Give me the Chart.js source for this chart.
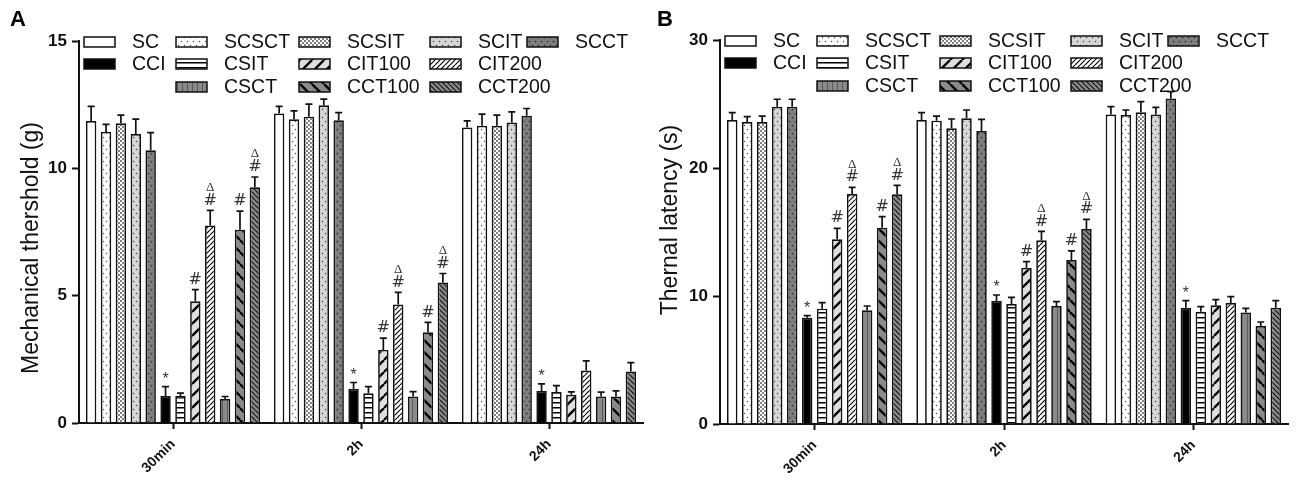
<!DOCTYPE html>
<html><head><meta charset="utf-8">
<script src="https://cdn.jsdelivr.net/npm/chart.js@4.4.0/dist/chart.umd.min.js"></script>
<style>
html,body{margin:0;padding:0;background:#fff;}
#wrap{position:relative;width:1300px;height:486px;overflow:hidden;}
.panel{position:absolute;top:0;width:650px;height:486px;}
</style></head><body>
<div id="wrap">
<div class="panel" style="left:0"><canvas id="cA"></canvas></div>
<div class="panel" style="left:650px"><canvas id="cB"></canvas></div>
</div>
<script>
// ---------- data ----------
const timeLabels = ['30min', '2h', '24h'];
const seriesLabels = ['SC','SCSCT','SCSIT','SCIT','SCCT','CCI','CSIT','CIT100','CIT200','CSCT','CCT100','CCT200'];

// Panel A: mechanical threshold (g), values per time point in series order
const mech30min = [11.86, 11.43, 11.77, 11.35, 10.71, 1.06, 1.06, 4.78, 7.76, 0.94, 7.59, 9.26];
const mech2h    = [12.15, 11.93, 12.03, 12.48, 11.89, 1.34, 1.17, 2.87, 4.65, 1.04, 3.56, 5.52];
const mech24h   = [11.60, 11.67, 11.67, 11.80, 12.06, 1.26, 1.22, 1.11, 2.06, 1.04, 1.04, 2.02];
const mechErr30min = [0.57, 0.30, 0.32, 0.58, 0.69, 0.37, 0.11, 0.46, 0.59, 0.10, 0.73, 0.40];
const mechErr2h    = [0.28, 0.33, 0.49, 0.24, 0.30, 0.25, 0.26, 0.46, 0.48, 0.19, 0.39, 0.35];
const mechErr24h   = [0.26, 0.46, 0.42, 0.42, 0.29, 0.28, 0.25, 0.11, 0.38, 0.17, 0.22, 0.35];

// Panel B: thermal latency (s)
const therm30min = [23.75, 23.59, 23.59, 24.79, 24.79, 8.31, 9.01, 14.43, 17.97, 8.88, 15.34, 17.94];
const therm2h    = [23.75, 23.70, 23.10, 23.88, 22.89, 9.61, 9.38, 12.21, 14.35, 9.22, 12.81, 15.23];
const therm24h   = [24.17, 24.14, 24.35, 24.17, 25.42, 9.09, 8.77, 9.27, 9.45, 8.72, 7.66, 9.09];
const thermErr30min = [0.57, 0.42, 0.47, 0.58, 0.58, 0.15, 0.47, 0.86, 0.52, 0.34, 0.86, 0.70];
const thermErr2h    = [0.57, 0.36, 0.73, 0.65, 0.91, 0.47, 0.52, 0.47, 0.70, 0.34, 0.71, 0.76];
const thermErr24h   = [0.62, 0.39, 0.83, 0.57, 0.54, 0.55, 0.40, 0.44, 0.50, 0.32, 0.31, 0.55];

// significance marks (drawn bottom to top)
const sig30min = ['', '', '', '', '', '*', '', '#', '#Δ', '', '#', '#Δ'];
const sig2h    = ['', '', '', '', '', '*', '', '#', '#Δ', '', '#', '#Δ'];
const sig24h   = ['', '', '', '', '', '*', '', '', '', '', '', ''];

const mechTicks = [0, 5, 10, 15];
const thermTicks = [0, 10, 20, 30];

// ---------- styles ----------
const FONT = "'Liberation Sans', Arial, sans-serif";
const INK = '#111';
// legend grid slot [column,row] for each series
const legendSlots = [[0,0],[1,0],[2,0],[3,0],[4,0],[0,1],[1,1],[2,1],[3,1],[1,2],[2,2],[3,2]];
const legendColX = [5, 97, 220, 351, 448];
const legendRowY = [1, 23, 46];

function makePatterns(ctx) {
  function tile(w, h, bg, fn) {
    const c = document.createElement('canvas');
    c.width = w; c.height = h;
    const g = c.getContext('2d');
    g.fillStyle = bg; g.fillRect(0, 0, w, h);
    if (fn) fn(g, w, h);
    return ctx.createPattern(c, 'repeat');
  }
  function dots(list, col, r) {
    return (g) => { g.fillStyle = col; list.forEach(p => { g.beginPath(); g.arc(p[0], p[1], r, 0, Math.PI * 2); g.fill(); }); };
  }
  function diag(dir, col, lw) {
    return (g, s) => {
      g.strokeStyle = col; g.lineWidth = lw; g.beginPath();
      for (const k of [-s, 0, s]) {
        if (dir > 0) { g.moveTo(k, s); g.lineTo(k + s, 0); }
        else { g.moveTo(k, 0); g.lineTo(k + s, s); }
      }
      g.stroke();
    };
  }
  return [
    '#ffffff',
    tile(6, 8, '#ffffff', dots([[1.5, 1.5], [4.5, 5.5]], '#555', 0.75)),
    tile(4, 4, '#ffffff', dots([[1, 1], [3, 3]], '#444', 0.9)),
    tile(6, 8, '#d6d6d6', dots([[1.5, 1.5], [4.5, 5.5]], '#444', 0.75)),
    tile(6, 8, '#7e7e7e', dots([[1.5, 1.5], [4.5, 5.5]], '#2a2a2a', 0.85)),
    '#000000',
    tile(5, 5, '#ffffff', (g) => { g.fillStyle = '#000'; g.fillRect(0, 2, 5, 1.5); }),
    tile(12, 12, '#dedede', diag(1, '#000', 2.3)),
    tile(5, 5, '#ffffff', diag(1, '#000', 1.15)),
    tile(5, 5, '#8a8a8a', (g) => { g.fillStyle = '#5a5a5a'; g.fillRect(2, 0, 1, 5); }),
    tile(12, 12, '#8a8a8a', diag(-1, '#000', 2.3)),
    tile(5, 5, '#8a8a8a', diag(-1, '#111', 1.15)),
  ];
}

function buildChart(canvasId, cfg) {
  const canvas = document.getElementById(canvasId);
  const ctx = canvas.getContext('2d');
  const fills = makePatterns(ctx);
  const datasets = seriesLabels.map((name, i) => ({
    label: name,
    data: cfg.values.map(arr => arr[i]),
    errs: cfg.errs.map(arr => arr[i]),
    sigs: cfg.sigs.map(arr => arr[i]),
    backgroundColor: fills[i],
    borderColor: INK,
    borderWidth: 1.7,
    borderSkipped: 'bottom',
    barPercentage: 0.7,
    categoryPercentage: 0.95,
  }));

  const extras = {
    id: 'extras',
    afterDatasetsDraw(chart) {
      const c = chart.ctx;
      const ys = chart.scales.y;
      c.save();
      chart.data.datasets.forEach((ds, di) => {
        const meta = chart.getDatasetMeta(di);
        meta.data.forEach((el, j) => {
          const v = ds.data[j], e = ds.errs[j];
          const yTop = ys.getPixelForValue(v + e);
          c.strokeStyle = INK; c.lineWidth = 1.7;
          c.beginPath();
          c.moveTo(el.x, el.y); c.lineTo(el.x, yTop);
          c.moveTo(el.x - 3.5, yTop); c.lineTo(el.x + 3.5, yTop);
          c.stroke();
          const s = ds.sigs[j];
          if (s) {
            let y = yTop - 9;
            for (const ch of s) {
              c.fillStyle = '#333';
              c.textAlign = 'center'; c.textBaseline = 'middle';
              if (ch === '*') { c.font = "16px " + FONT; c.fillText('*', el.x, y + 2); y -= 12; }
              else if (ch === '#') { c.font = "16px 'DejaVu Sans', sans-serif"; c.fillText('#', el.x, y - 1); y -= 13; }
              else { c.font = "13px 'Liberation Serif', serif"; c.fillText(ch, el.x, y - 1); y -= 12; }
            }
          }
        });
      });
      c.restore();
    },
    afterDraw(chart) {
      const c = chart.ctx;
      const a = chart.chartArea;
      c.save();
      // legend
      chart.data.datasets.forEach((ds, i) => {
        const [col, row] = legendSlots[i];
        const x = a.left + legendColX[col];
        const yc = a.top + legendRowY[row];
        c.fillStyle = ds.backgroundColor;
        c.fillRect(x, yc - 5, 31, 10);
        c.strokeStyle = INK; c.lineWidth = 1.5;
        c.strokeRect(x, yc - 5, 31, 10);
        c.fillStyle = INK;
        c.font = "19.5px " + FONT;
        c.textAlign = 'left'; c.textBaseline = 'middle';
        c.fillText(ds.label, x + 48, yc + 1);
      });
      // y-axis title
      c.translate(cfg.titleX, cfg.titleY);
      c.rotate(-Math.PI / 2);
      c.font = "23px " + FONT;
      c.fillStyle = INK; c.textAlign = 'center'; c.textBaseline = 'middle';
      c.fillText(cfg.title, 0, 0);
      c.setTransform(1, 0, 0, 1, 0, 0);
      c.restore();
      c.save();
      // panel letter
      c.font = "bold 22px " + FONT;
      c.fillStyle = '#000'; c.textAlign = 'left'; c.textBaseline = 'top';
      c.fillText(cfg.letter, cfg.letterX, 9);
      c.restore();
    }
  };

  return new Chart(ctx, {
    type: 'bar',
    data: { labels: timeLabels, datasets },
    options: {
      responsive: true,
      maintainAspectRatio: false,
      animation: false,
      devicePixelRatio: 1,
      layout: { padding: { top: cfg.top, right: cfg.right, left: 0, bottom: 0 } },
      plugins: { legend: { display: false }, tooltip: { enabled: false }, title: { display: false } },
      scales: {
        x: {
          offset: true,
          grid: { offset: false, drawOnChartArea: false, drawTicks: true, tickLength: 6, tickColor: INK, tickWidth: 2 },
          border: { display: true, color: INK, width: 2 },
          ticks: { font: { family: FONT, weight: 'bold', size: 14 }, color: INK, maxRotation: 45, minRotation: 45, padding: 7 },
          afterFit: (s) => { s.height = cfg.xHeight; }
        },
        y: {
          min: 0, max: cfg.ticks[cfg.ticks.length - 1],
          afterBuildTicks: (s) => { s.ticks = cfg.ticks.map(v => ({ value: v })); },
          grid: { drawOnChartArea: false, drawTicks: true, tickLength: 7, tickColor: INK, tickWidth: 2 },
          border: { display: true, color: INK, width: 2 },
          ticks: { font: { family: FONT, weight: 'bold', size: 17 }, color: INK, padding: 5 },
          afterFit: (s) => { s.width = cfg.yWidth; }
        }
      }
    },
    plugins: [extras]
  });
}

buildChart('cA', {
  values: [mech30min, mech2h, mech24h],
  errs: [mechErr30min, mechErr2h, mechErr24h],
  sigs: [sig30min, sig2h, sig24h],
  ticks: mechTicks,
  title: 'Mechanical thershold (g)', titleX: 32, titleY: 248,
  letter: 'A', letterX: 10,
  top: 41, right: 7, yWidth: 79, xHeight: 63
});
buildChart('cB', {
  values: [therm30min, therm2h, therm24h],
  errs: [thermErr30min, thermErr2h, thermErr24h],
  sigs: [sig30min, sig2h, sig24h],
  ticks: thermTicks,
  title: 'Thernal latency (s)', titleX: 21, titleY: 220,
  letter: 'B', letterX: 7,
  top: 40, right: 12, yWidth: 70, xHeight: 62
});
</script>
</body></html>
